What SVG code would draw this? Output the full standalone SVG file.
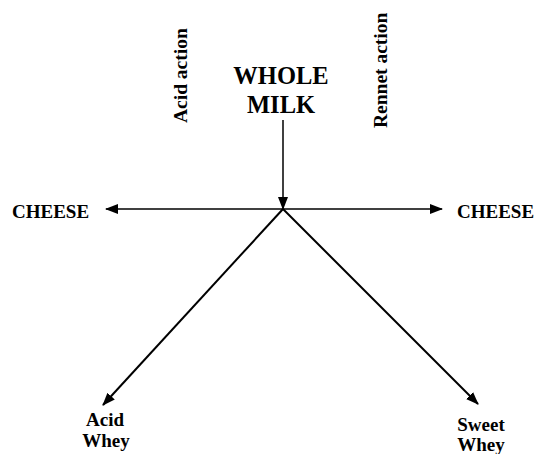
<svg xmlns="http://www.w3.org/2000/svg" width="536" height="454" viewBox="0 0 536 454">
<style>
text{font-family:"Liberation Serif","Times New Roman","DejaVu Serif",serif;font-weight:bold;fill:#000}
.c{stroke:#000;fill:none}
</style>
<defs>
<marker id="ah" markerWidth="13" markerHeight="10" refX="12" refY="5" orient="auto" markerUnits="userSpaceOnUse">
<path d="M0,0 L13,5 L0,10 Z" fill="#000"/>
</marker>
</defs>
<rect width="536" height="454" fill="#fff"/>
<g id="connectors">
<line class="c" x1="283" y1="120" x2="283" y2="209" stroke-width="1.5" marker-end="url(#ah)"/>
<line class="c" x1="283" y1="209" x2="106" y2="209" stroke-width="1.5" marker-end="url(#ah)"/>
<line class="c" x1="283" y1="209" x2="442" y2="209" stroke-width="1.5" marker-end="url(#ah)"/>
<line class="c" x1="283" y1="209" x2="103" y2="405" stroke-width="2" marker-end="url(#ah)"/>
<line class="c" x1="283" y1="209" x2="478" y2="404" stroke-width="2" marker-end="url(#ah)"/>
</g>
<g id="whole-milk">
<text x="281" y="84" font-size="24.5" text-anchor="middle">WHOLE</text>
<text x="281" y="113" font-size="24.5" text-anchor="middle">MILK</text>
</g>
<g id="acid-action">
<text transform="translate(187,123) rotate(-90)" font-size="19.5">Acid action</text>
</g>
<g id="rennet-action">
<text transform="translate(387,128) rotate(-90)" font-size="19.5">Rennet action</text>
</g>
<g id="cheese-left">
<text x="12" y="218" font-size="19">CHEESE</text>
</g>
<g id="cheese-right">
<text x="457" y="218" font-size="19">CHEESE</text>
</g>
<g id="acid-whey">
<text x="105" y="426" font-size="19" text-anchor="middle">Acid</text>
<text x="106" y="447" font-size="19" text-anchor="middle">Whey</text>
</g>
<g id="sweet-whey">
<text x="481" y="431" font-size="19" text-anchor="middle">Sweet</text>
<text x="481" y="451" font-size="19" text-anchor="middle">Whey</text>
</g>
</svg>
